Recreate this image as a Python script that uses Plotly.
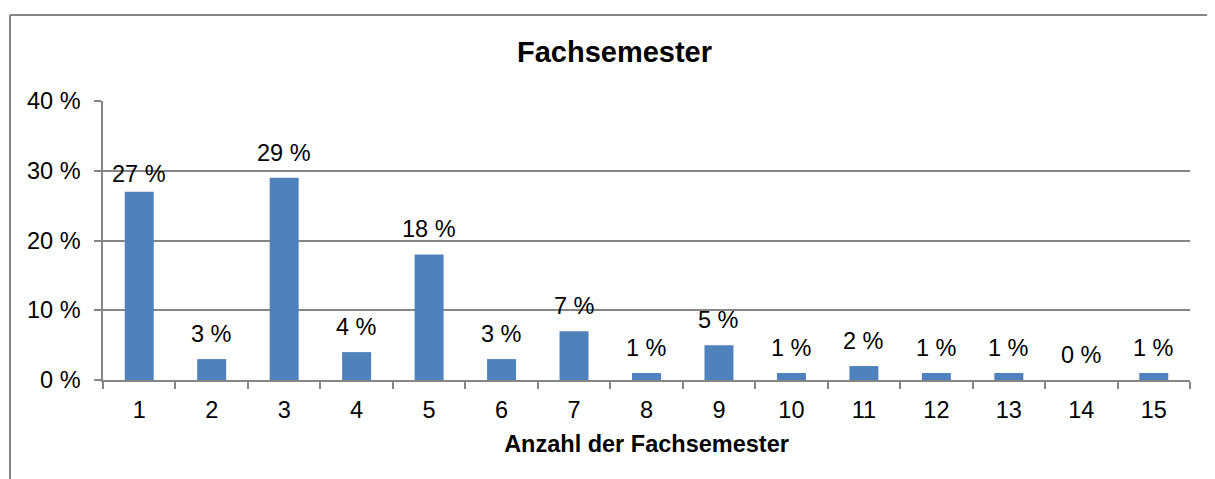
import plotly.graph_objects as go

categories = [str(i) for i in range(1, 16)]
values = [27, 3, 29, 4, 18, 3, 7, 1, 5, 1, 2, 1, 1, 0, 1]
labels = [f"{v} %" for v in values]
y_ticks = [0, 10, 20, 30, 40]

OFF = 8  # page body margin of the browser
W, H = 1215 - OFF, 479 - OFF
# plot area in window pixels: x 103..1190, y 101..380
ML, MR, MT, MB = 103 - OFF, 1215 - 1190, 101 - OFF, 479 - 380
PW, PH = W - ML - MR, H - MT - MB
GRAY = "#868686"
FONT = "Liberation Sans, Arial, sans-serif"
FS = 23.5
label_shift = {"1": 3}  # the first label sits a bit lower in the original

fig = go.Figure()
fig.add_trace(go.Bar(x=categories, y=values, marker=dict(color="#4F81BD", line=dict(width=0)),
                     hoverinfo="x+y"))

for i, (c, v, t) in enumerate(zip(categories, values, labels)):
    fig.add_annotation(x=i, y=v, text=t, showarrow=False, yanchor="bottom",
                       yshift=label_shift.get(c, 10),
                       font=dict(family=FONT, size=FS, color="black"))

def px_x(p):
    return (p - OFF - ML) / PW

def px_y(p):
    return (H - MB - (p - OFF)) / PH

fig.add_shape(type="line", xref="paper", yref="paper", x0=px_x(10), x1=px_x(10),
              y0=px_y(485), y1=px_y(15), line=dict(color=GRAY, width=2))
fig.add_shape(type="line", xref="paper", yref="paper", x0=px_x(10), x1=px_x(1215),
              y0=px_y(15), y1=px_y(15), line=dict(color=GRAY, width=2))

fig.update_layout(
    width=W, height=H,
    margin=dict(l=ML, r=MR, t=MT, b=MB, autoexpand=False),
    paper_bgcolor="white", plot_bgcolor="white",
    bargap=0.6, showlegend=False,
    font=dict(family=FONT, size=FS, color="black"),
    title=dict(text="<b>Fachsemester</b>", x=(614.5 - OFF) / W, xanchor="center",
               y=1 - (51.5 - OFF) / H, yanchor="middle",
               font=dict(family=FONT, size=29, color="black")),
    xaxis=dict(type="category", tickson="boundaries", ticks="outside", ticklen=7, tickcolor=GRAY,
               tickwidth=1.5, showline=True, linecolor=GRAY, linewidth=1.5, showgrid=False,
               automargin=False, ticklabelstandoff=8,
               tickfont=dict(family=FONT, size=FS, color="black"),
               title=dict(text="<b>Anzahl der Fachsemester</b>", standoff=14,
                          font=dict(family=FONT, size=23.5, color="black"))),
    yaxis=dict(range=[0, 40], tickvals=y_ticks, ticktext=[f"{v} %" for v in y_ticks],
               ticks="outside", ticklen=7, tickcolor=GRAY, tickwidth=1.5,
               showline=True, linecolor=GRAY, linewidth=1.5, automargin=False,
               showgrid=True, gridcolor=GRAY, gridwidth=1.5, zeroline=False,
               ticklabelstandoff=9,
               tickfont=dict(family=FONT, size=FS, color="black")),
)

fig.write_html("out.html", config={"displayModeBar": False},
               post_script="document.documentElement.style.overflow='hidden';"
                           "document.body.style.overflow='hidden';")
